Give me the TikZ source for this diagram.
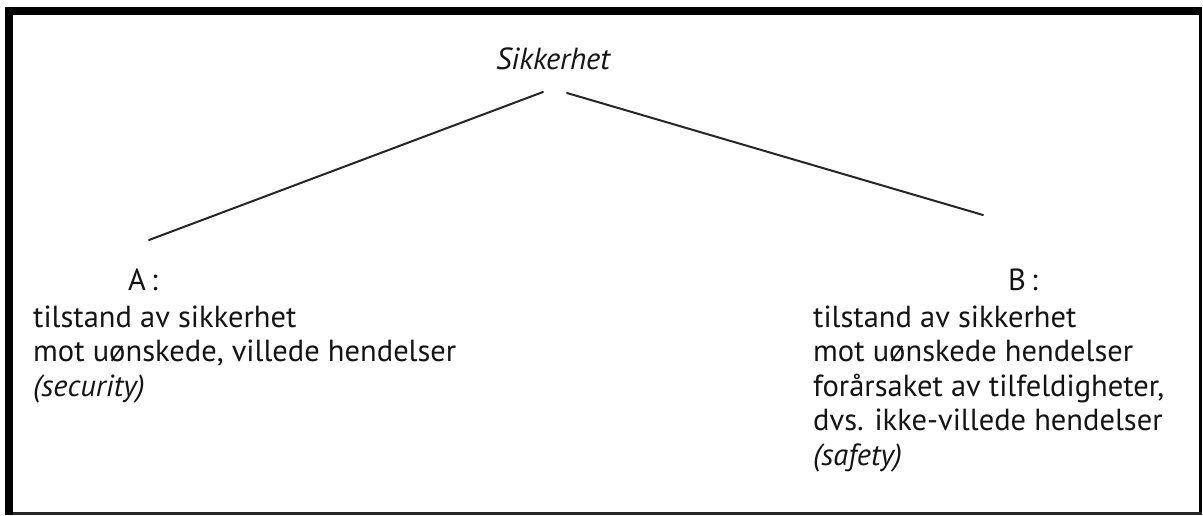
\documentclass[tikz,border=0pt]{standalone}
\usepackage{fontspec}
\setmainfont{PT Sans}
\begin{document}
\begin{tikzpicture}[x=1pt,y=-1pt,
  txt/.style={inner sep=0pt, font=\fontsize{30.5}{34.5}\selectfont, text=black!92},
  branch/.style={line width=2pt, black!85, line cap=round}]
  % canvas
  \useasboundingbox (0,0) rectangle (1203,515);
  \fill[white] (0,0) rectangle (1203,515);
  % frame: heavy top and left, thin right and bottom
  \fill[black] (5,7) rectangle (1202,15);
  \fill[black] (5,7) rectangle (13,515);
  \fill[black] (1199,7) rectangle (1202,515);
  \fill[black!85] (13,512) rectangle (1202,515);

  % root term
  \node[txt, anchor=base] (root) at (553,69) {\itshape Sikkerhet};

  % two readings of the term
  \node[txt, anchor=base west] (labA) at (128,290) {A\,:};
  \node[txt, anchor=base west] (labB) at (1008,290) {B\,:};

  % multi-line nodes: base anchor sits on the last line
  \node[txt, anchor=base west, align=left] (defA) at (33,396)
    {tilstand av sikkerhet\\
     mot uønskede, villede hendelser\\
     \textit{(security)}};
  \node[txt, anchor=base west, align=left] (defB) at (813,465)
    {tilstand av sikkerhet\\
     mot uønskede hendelser\\
     forårsaket av tilfeldigheter,\\
     dvs. ikke-villede hendelser\\
     \textit{(safety)}};

  % branch ends
  \coordinate (rootL) at (543,92);
  \coordinate (rootR) at (567,93);
  \coordinate (endA) at (149,240);
  \coordinate (endB) at (983,215);
  \draw[branch] (rootL) -- (endA);
  \draw[branch] (rootR) -- (endB);
\end{tikzpicture}
\end{document}
